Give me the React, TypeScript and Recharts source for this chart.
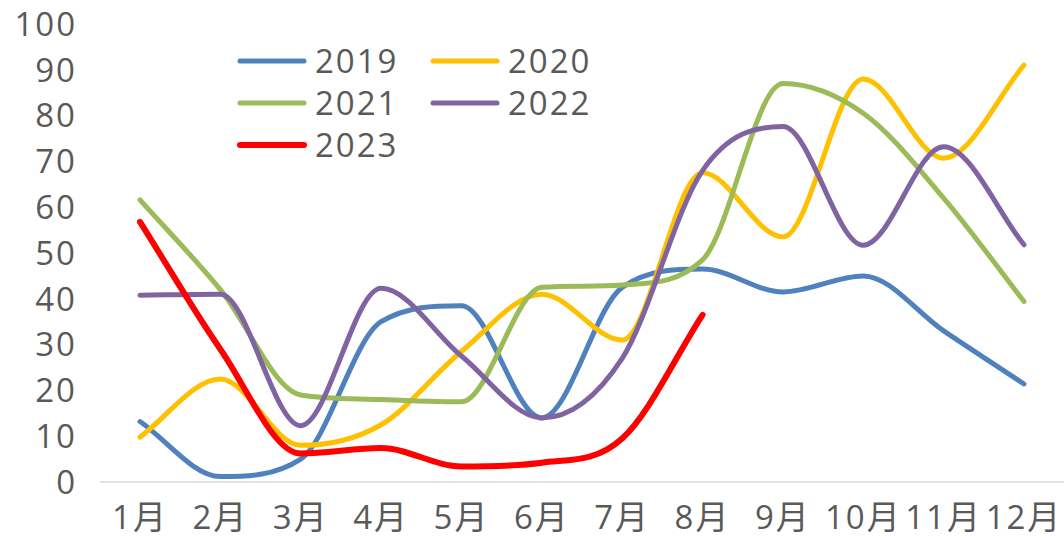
import React from 'react';
import { LineChart, Line, XAxis, YAxis } from 'recharts';

const months = ['1月', '2月', '3月', '4月', '5月', '6月', '7月', '8月', '9月', '10月', '11月', '12月'];
const s2019 = [13.2, 1.2, 5, 35, 38.5, 14, 42.5, 46.5, 41.5, 45, 33, 21.4];
const s2020 = [9.8, 22.5, 8, 12.5, 28.5, 41, 31, 67.5, 53.5, 88, 70.7, 91];
const s2021 = [61.6, 42, 19, 18, 17.5, 42.5, 43, 48.5, 87, 80.5, 62, 39.4];
const s2022 = [40.8, 41, 12.3, 42.3, 27.5, 14, 27, 68, 77.6, 51.7, 73.2, 51.8];
const s2023: (number | null)[] = [56.8, 29, 6.2, 7.4, 3.4, 4.2, 9.5, 36.5, null, null, null, null];
const yTicks = [0, 10, 20, 30, 40, 50, 60, 70, 80, 90, 100];

const seriesDefs = [
  { key: 'y2019', name: '2019', color: '#4F81BD', width: 5 },
  { key: 'y2020', name: '2020', color: '#FFC000', width: 5 },
  { key: 'y2021', name: '2021', color: '#9BBB59', width: 5 },
  { key: 'y2022', name: '2022', color: '#8064A2', width: 5 },
  { key: 'y2023', name: '2023', color: '#FF0000', width: 6 },
];

const data = months.map((m, i) => ({
  month: m,
  y2019: s2019[i],
  y2020: s2020[i],
  y2021: s2021[i],
  y2022: s2022[i],
  y2023: s2023[i],
}));

// Excel-like smoothing: Catmull-Rom tangents, flattened at local extrema and
// limited (Fritsch-Carlson) so curves do not overshoot between points.
const excelCurve = (context: any) => {
  let pts: number[][] = [];
  return {
    areaStart() {},
    areaEnd() {},
    lineStart() {
      pts = [];
    },
    point(x: number, y: number) {
      pts.push([+x, +y]);
    },
    lineEnd() {
      const n = pts.length;
      if (!n) return;
      context.moveTo(pts[0][0], pts[0][1]);
      if (n === 1) {
        context.lineTo(pts[0][0], pts[0][1]);
        return;
      }
      const d: number[] = [];
      for (let i = 0; i < n - 1; i++) {
        d.push((pts[i + 1][1] - pts[i][1]) / (pts[i + 1][0] - pts[i][0]));
      }
      const m: number[] = [];
      for (let i = 0; i < n; i++) {
        if (i === 0) {
          m.push(d[0]);
        } else if (i === n - 1) {
          m.push(d[n - 2]);
        } else {
          const dl = d[i - 1];
          const dr = d[i];
          if (dl * dr <= 0) {
            m.push(0);
          } else {
            let t = (dl + dr) / 2;
            const lim = 3 * Math.min(Math.abs(dl), Math.abs(dr));
            if (Math.abs(t) > lim) t = Math.sign(t) * lim;
            m.push(t);
          }
        }
      }
      for (let i = 0; i < n - 1; i++) {
        const p1 = pts[i];
        const p2 = pts[i + 1];
        const h = (p2[0] - p1[0]) / 3;
        context.bezierCurveTo(p1[0] + h, p1[1] + m[i] * h, p2[0] - h, p2[1] - m[i + 1] * h, p2[0], p2[1]);
      }
    },
  };
};

const FONT = '"Open Sans", "Noto Sans CJK SC", sans-serif';
const TEXT = '#595959';
const FS = 33;
const LS = 2;

const legendOrder = ['2019', '2020', '2021', '2022', '2023'];

const CustomLegend = () => (
  <div style={{ position: 'absolute', left: 237, top: 40, width: 400, height: 130 }}>
    {legendOrder.map((n, i) => {
      const s = seriesDefs.find((d) => d.name === n)!;
      const col = i % 2;
      const row = Math.floor(i / 2);
      return (
        <div
          key={n}
          style={{
            position: 'absolute',
            left: col * 193,
            top: row * 42,
            height: 42,
            display: 'flex',
            alignItems: 'center',
            fontFamily: FONT,
            fontSize: FS,
            letterSpacing: LS,
            color: TEXT,
            lineHeight: '42px',
            whiteSpace: 'nowrap',
          }}
        >
          <svg width={70} height={10} style={{ display: 'block' }}>
            <line x1={3} y1={5} x2={67} y2={5} stroke={s.color} strokeWidth={s.width} strokeLinecap="round" />
          </svg>
          <span style={{ marginLeft: 8 }}>{n}</span>
        </div>
      );
    })}
  </div>
);

export default function App() {
  return (
    <div style={{ position: 'absolute', left: 0, top: 0, width: 1064, height: 538, background: '#fff' }}>
      <LineChart width={1064} height={538} data={data} margin={{ top: 24, right: 0, bottom: 0, left: 0 }}>
        <XAxis
          dataKey="month"
          height={56}
          padding={{ left: 40, right: 40 }}
          axisLine={{ stroke: '#D9D9D9', strokeWidth: 1.5 }}
          tickLine={false}
          tick={{ fill: TEXT, fontSize: FS, fontFamily: FONT, letterSpacing: LS }}
          tickMargin={18}
          interval={0}
        />
        <YAxis
          width={100}
          domain={[0, 100]}
          ticks={yTicks}
          axisLine={false}
          tickLine={false}
          tickSize={0}
          tickMargin={23}
          tick={{ fill: TEXT, fontSize: FS, fontFamily: FONT, letterSpacing: LS }}
          interval={0}
        />
        {seriesDefs.map((s) => (
          <Line
            key={s.key}
            dataKey={s.key}
            name={s.name}
            type={excelCurve as any}
            stroke={s.color}
            strokeWidth={s.width}
            strokeLinecap="round"
            dot={false}
            activeDot={false}
            isAnimationActive={false}
          />
        ))}
      </LineChart>
      <CustomLegend />
    </div>
  );
}
